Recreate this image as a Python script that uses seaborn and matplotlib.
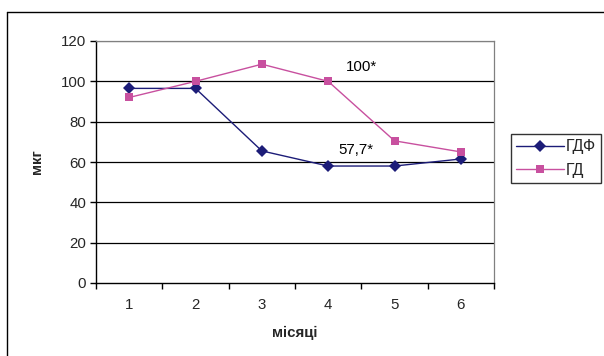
import matplotlib
matplotlib.use("Agg")
import matplotlib.pyplot as plt
import seaborn as sns
import pandas as pd
from matplotlib.lines import Line2D

months = [1, 2, 3, 4, 5, 6]
gdf_values = [96.5, 96.5, 65.5, 58.0, 58.0, 61.5]
gd_values = [92.0, 100.0, 108.5, 100.0, 70.5, 65.0]
series_names = ["ГДФ", "ГД"]
y_ticks = [0, 20, 40, 60, 80, 100, 120]
annotations = [("100*", 4.5, 107), ("57,7*", 4.42, 66)]

sns.set_theme(style="white")
plt.rcParams['font.family'] = ['Liberation Sans', 'DejaVu Sans']

df = pd.DataFrame({
    "month": months * 2,
    "value": gdf_values + gd_values,
    "series": [series_names[0]] * 6 + [series_names[1]] * 6,
})

fs = 10.8
fig = plt.figure(figsize=(6.04, 3.56), dpi=100)
ax = fig.add_axes([96/604, 1-283/356, (494-96)/604, (283-41)/356])

palette = {"ГДФ": "#1c1c78", "ГД": "#c8509f"}
sns.lineplot(data=df, x="month", y="value", hue="series", style="series",
             markers={"ГДФ": "D", "ГД": "s"}, dashes=False, palette=palette,
             markersize=6, linewidth=1.0, markeredgewidth=0, ax=ax, legend=False)

ax.set_xlim(0.5, 6.5)
ax.set_ylim(0, 120)
ax.set_yticks(y_ticks)
ax.set_yticklabels([str(v) for v in y_ticks], fontsize=fs)
ax.set_xticks(months)
ax.set_xticklabels([str(m) for m in months], fontsize=fs)
ax.set_xticks([0.5 + i for i in range(7)], minor=True)
ax.tick_params(axis="x", which="major", length=0, pad=11)
ax.tick_params(axis="x", which="minor", length=4, width=1, color="black", direction="out", bottom=True)
ax.tick_params(axis="y", which="major", length=4, width=1, color="black", direction="out", left=True, pad=3)

for v in y_ticks[1:-1]:
    ax.axhline(v, color="#000000", linewidth=0.9, zorder=0)
ax.axhline(120, color="#808080", linewidth=0.9, zorder=0)

for s in ["top", "right"]:
    ax.spines[s].set_color("#808080")
    ax.spines[s].set_linewidth(0.9)
for s in ["left", "bottom"]:
    ax.spines[s].set_color("black")
    ax.spines[s].set_linewidth(1.0)

ax.set_xlabel("місяці", fontsize=fs, fontweight="bold", labelpad=10)
ax.set_ylabel("мкг", fontsize=fs, fontweight="bold", labelpad=12)

for txt, x, y in annotations:
    ax.text(x, y, txt, fontsize=fs, ha="center", va="center", color="black")

handles = [Line2D([0], [0], color=palette[n], marker=m, markersize=6, markeredgewidth=0, linewidth=1.0)
           for n, m in zip(series_names, ["D", "s"])]
leg = fig.legend(handles, series_names, loc="center left", bbox_to_anchor=(511/604, 1-158.5/356),
                 frameon=True, fancybox=False, fontsize=11.5, handlelength=3.0,
                 borderpad=0.3, labelspacing=0.55, handletextpad=0.15, borderaxespad=0)
leg.get_frame().set_edgecolor("black")
leg.get_frame().set_linewidth(1.0)

fig.add_artist(Line2D([7/604, 7/604], [0, 1-12/356], color="black", linewidth=1.0, transform=fig.transFigure))
fig.add_artist(Line2D([7/604, 1], [1-12/356, 1-12/356], color="black", linewidth=1.0, transform=fig.transFigure))

fig.savefig("out.png", dpi=100)
